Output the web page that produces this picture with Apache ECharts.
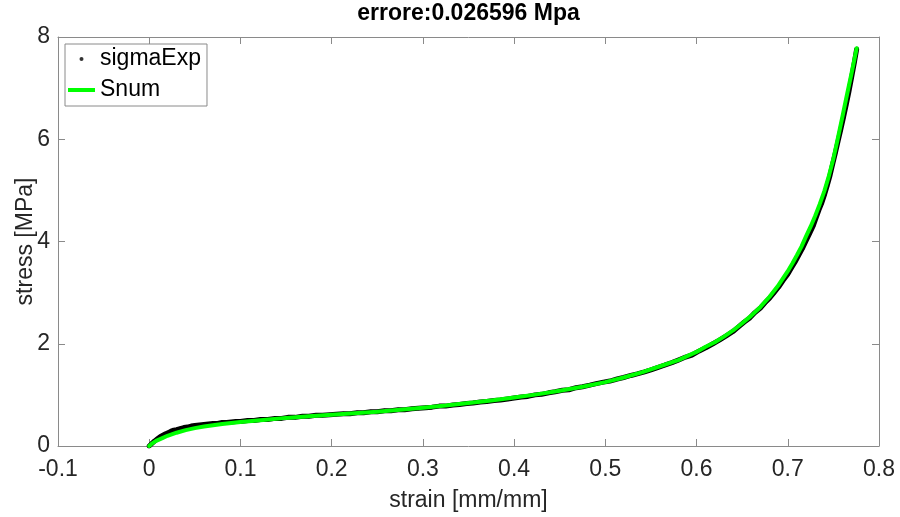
<!DOCTYPE html>
<html>
<head>
<meta charset="utf-8">
<script src="https://cdn.jsdelivr.net/npm/echarts@6/dist/echarts.min.js"></script>
<style>
html,body{margin:0;padding:0;background:#fff;}
#chart{width:900px;height:517px;}
</style>
</head>
<body>
<div id="chart"></div>
<script>
// ---- data ----
var titleText = 'errore:0.026596 Mpa';
var xTicks = [-0.1, 0, 0.1, 0.2, 0.3, 0.4, 0.5, 0.6, 0.7, 0.8];
var yTicks = [0, 2, 4, 6, 8];

var expStrain = [0.000,0.003,0.006,0.009,0.012,0.015,0.018,0.021,0.024,0.027,0.030,0.034,0.038,0.042,0.046,0.050,0.055,0.060,0.065,0.070,0.075,0.080,0.085,0.090,0.095,0.100,0.108,0.115,0.122,0.130,0.138,0.145,0.152,0.160,0.168,0.175,0.183,0.190,0.198,0.205,0.213,0.220,0.228,0.235,0.243,0.250,0.258,0.265,0.273,0.280,0.288,0.295,0.303,0.310,0.318,0.325,0.333,0.340,0.348,0.355,0.363,0.370,0.378,0.385,0.393,0.400,0.408,0.415,0.423,0.430,0.438,0.445,0.453,0.460,0.468,0.475,0.483,0.490,0.498,0.505,0.513,0.520,0.528,0.535,0.543,0.550,0.558,0.565,0.573,0.580,0.588,0.595,0.603,0.610,0.618,0.625,0.633,0.640,0.646,0.652,0.658,0.664,0.670,0.675,0.680,0.685,0.690,0.695,0.700,0.704,0.708,0.712,0.716,0.720,0.724,0.728,0.731,0.734,0.737,0.740,0.743,0.746,0.749,0.752,0.755,0.758,0.761,0.764,0.767,0.770,0.773,0.7755];
var expStress = [0.00,0.05,0.10,0.14,0.18,0.21,0.24,0.26,0.29,0.31,0.32,0.34,0.36,0.37,0.39,0.40,0.41,0.42,0.43,0.44,0.44,0.46,0.46,0.47,0.48,0.48,0.50,0.50,0.52,0.52,0.54,0.54,0.56,0.56,0.58,0.58,0.60,0.60,0.61,0.62,0.63,0.63,0.65,0.65,0.67,0.67,0.69,0.69,0.71,0.71,0.73,0.74,0.75,0.76,0.78,0.78,0.80,0.81,0.83,0.84,0.86,0.87,0.89,0.90,0.92,0.94,0.96,0.97,1.00,1.01,1.04,1.06,1.09,1.10,1.14,1.16,1.19,1.22,1.25,1.27,1.31,1.34,1.38,1.41,1.45,1.49,1.54,1.58,1.63,1.68,1.74,1.78,1.86,1.92,2.00,2.07,2.16,2.24,2.33,2.42,2.50,2.61,2.70,2.80,2.89,3.00,3.11,3.24,3.36,3.48,3.60,3.73,3.86,4.01,4.16,4.31,4.46,4.61,4.74,4.90,5.08,5.27,5.50,5.72,5.95,6.18,6.42,6.67,6.93,7.21,7.50,7.76];

var numStrain = [0, 0.0025, 0.005, 0.0075, 0.01, 0.015, 0.02, 0.03, 0.04, 0.05, 0.06, 0.07, 0.08, 0.09, 0.1, 0.125, 0.15, 0.175, 0.2, 0.225, 0.25, 0.275, 0.3, 0.325, 0.35, 0.375, 0.4, 0.425, 0.45, 0.475, 0.5, 0.52, 0.54, 0.56, 0.58, 0.6, 0.61, 0.62, 0.63, 0.64, 0.65, 0.66, 0.67, 0.68, 0.69, 0.7, 0.705, 0.71, 0.715, 0.72, 0.725, 0.73, 0.735, 0.74, 0.745, 0.75, 0.755, 0.76, 0.765, 0.77, 0.7755];
var numStress = [0, 0.04, 0.07, 0.10, 0.12, 0.16, 0.20, 0.26, 0.31, 0.35, 0.38, 0.405, 0.43, 0.45, 0.47, 0.51, 0.55, 0.58, 0.61, 0.64, 0.67, 0.71, 0.75, 0.79, 0.84, 0.89, 0.95, 1.01, 1.08, 1.16, 1.25, 1.34, 1.44, 1.56, 1.68, 1.84, 1.94, 2.03, 2.14, 2.26, 2.40, 2.55, 2.72, 2.92, 3.15, 3.42, 3.57, 3.73, 3.90, 4.10, 4.29, 4.50, 4.73, 4.98, 5.28, 5.62, 6.03, 6.45, 6.88, 7.30, 7.78];

// ---- build ----
function pairs(xs, ys) { return xs.map(function (x, i) { return [x, ys[i]]; }); }
var expData = pairs(expStrain, expStress);
var numData = pairs(numStrain, numStress);

var AX = '#8a8a8a', TXT = '#262626', FS = 23, FONT = 'Liberation Sans, Arial, sans-serif';
var xMin = xTicks[0], xMax = xTicks[xTicks.length - 1], xInt = 0.1;
var yMin = yTicks[0], yMax = yTicks[yTicks.length - 1], yInt = 2;

function fmt(v) { return String(Math.round(v * 10) / 10); }

var chart = echarts.init(document.getElementById('chart'), null, { renderer: 'canvas' });
var axisCommon = {
  type: 'value',
  axisLine: { show: true, onZero: false, lineStyle: { color: AX, width: 1 } },
  axisTick: { show: true, inside: true, length: 7, lineStyle: { color: AX, width: 1 } },
  splitLine: { show: false }
};
chart.setOption({
  animation: false,
  backgroundColor: '#fff',
  title: {
    text: titleText, left: 468.5, top: 2, padding: 0, textAlign: 'center',
    textStyle: { fontFamily: FONT, fontSize: FS, fontWeight: 'bold', color: '#000' }
  },
  grid: { left: 58, right: 21, top: 37, bottom: 70, containLabel: false },
  legend: {
    data: [{ name: 'sigmaExp', icon: 'circle' }, { name: 'Snum', icon: 'rect' }],
    orient: 'vertical', left: 65, top: 44,
    padding: [2, 6, 3, 3], itemGap: 5, itemWidth: 27, itemHeight: 4,
    backgroundColor: '#fff', borderColor: AX, borderWidth: 1,
    textStyle: { fontFamily: FONT, fontSize: FS, color: '#000', lineHeight: 26 },
    selectedMode: false
  },
  xAxis: [
    Object.assign({}, axisCommon, {
      position: 'bottom', min: xMin, max: xMax, interval: xInt,
      name: 'strain [mm/mm]', nameLocation: 'middle', nameGap: 43, nameMoveOverlap: false,
      nameTextStyle: { fontFamily: FONT, fontSize: FS, color: TXT },
      axisLabel: { show: true, margin: 12, fontFamily: FONT, fontSize: FS, color: TXT, formatter: fmt }
    }),
    Object.assign({}, axisCommon, {
      position: 'top', min: xMin, max: xMax, interval: xInt,
      axisLabel: { show: false }
    })
  ],
  yAxis: [
    Object.assign({}, axisCommon, {
      position: 'left', min: yMin, max: yMax, interval: yInt,
      name: 'stress [MPa]', nameLocation: 'middle', nameGap: 21, nameRotate: 90, nameMoveOverlap: false,
      nameTextStyle: { fontFamily: FONT, fontSize: FS, color: TXT },
      axisLabel: { show: true, margin: 8, fontFamily: FONT, fontSize: FS, color: TXT }
    }),
    Object.assign({}, axisCommon, {
      position: 'right', min: yMin, max: yMax, interval: yInt,
      axisLabel: { show: false }
    })
  ],
  series: [
    {
      name: 'sigmaExpBand', type: 'line', data: expData, xAxisIndex: 0, yAxisIndex: 0,
      symbol: 'none', lineStyle: { color: '#000', width: 5, join: 'round', cap: 'round' },
      itemStyle: { color: '#000' }, z: 2, silent: true
    },
    {
      name: 'sigmaExp', type: 'scatter', data: expData, xAxisIndex: 0, yAxisIndex: 0,
      symbol: 'circle', symbolSize: 4, itemStyle: { color: '#000' }, z: 3, silent: true
    },
    {
      name: 'Snum', type: 'line', data: numData, xAxisIndex: 0, yAxisIndex: 0,
      symbol: 'none', smooth: false,
      lineStyle: { color: '#00ff00', width: 4, cap: 'round', join: 'round' },
      itemStyle: { color: '#00ff00' }, z: 4, silent: true
    }
  ]
});
</script>
</body>
</html>
